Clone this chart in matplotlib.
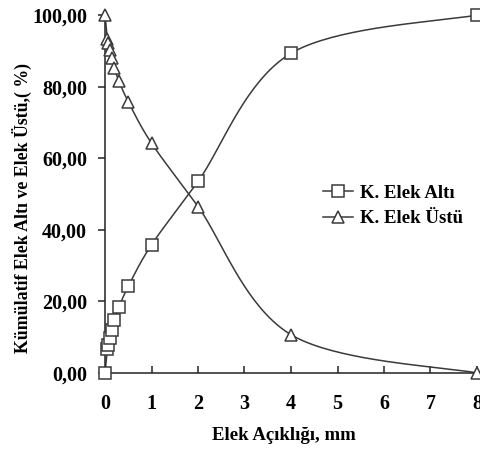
import numpy as np
import matplotlib
matplotlib.use("Agg")
import matplotlib.pyplot as plt
from matplotlib.lines import Line2D

# ---- data ----
sieve_mm = [0, 0.05, 0.075, 0.1, 0.15, 0.2, 0.3, 0.5, 1, 2, 4, 8]
elek_alti = [0.0, 6.8, 7.9, 9.8, 12.1, 14.9, 18.4, 24.2, 35.8, 53.5, 89.3, 100.0]
elek_ustu = [100.0, 93.2, 92.1, 90.2, 87.9, 85.1, 81.6, 75.8, 64.2, 46.5, 10.7, 0.0]
x_ticks = [0, 1, 2, 3, 4, 5, 6, 7, 8]
y_ticks = [0, 20, 40, 60, 80, 100]
series_names = ["K. Elek Altı", "K. Elek Üstü"]
x_title = "Elek Açıklığı, mm"
y_title = "Kümülatif Elek Altı ve Elek Üstü,( %)"

plt.rcParams['font.family'] = ['Liberation Serif', 'DejaVu Serif']
plt.rcParams['font.weight'] = 'bold'

W, H = 481, 450
fig = plt.figure(figsize=(W / 100, H / 100), dpi=100)
ax = fig.add_axes([105 / W, 1 - 373 / H, 372 / W, 358 / H])
ax.set_xlim(0, 8)
ax.set_ylim(0, 100)

line_color = "#3a3a3a"


def smooth(xs, ys, sx, sy, n=40):
    """Excel-like smoothed curve (cubic Bezier through points) in display-scaled units."""
    P = np.column_stack([np.asarray(xs, float) * sx, np.asarray(ys, float) * sy])
    out = []
    m = len(P)
    for i in range(m - 1):
        p0 = P[i - 1] if i > 0 else P[i]
        p1, p2 = P[i], P[i + 1]
        p3 = P[i + 2] if i + 2 < m else P[i + 1]
        c1 = p1 + (p2 - p0) / 6.0
        c2 = p2 - (p3 - p1) / 6.0
        t = np.linspace(0, 1, n)[:, None]
        seg = ((1 - t) ** 3) * p1 + 3 * ((1 - t) ** 2) * t * c1 + 3 * (1 - t) * t ** 2 * c2 + t ** 3 * p2
        out.append(seg if i == 0 else seg[1:])
    out = np.vstack(out)
    return out[:, 0] / sx, out[:, 1] / sy


sx, sy = 372 / 8.0, 358 / 100.0
for ys, mk in [(elek_alti, 's'), (elek_ustu, '^')]:
    cx, cy = smooth(sieve_mm, ys, sx, sy)
    ax.plot(cx, cy, color=line_color, lw=1.1, clip_on=False, zorder=2)
    ax.plot(sieve_mm, ys, linestyle='none', marker=mk, markersize=8,
            markerfacecolor='white', markeredgecolor=line_color, markeredgewidth=1.1,
            clip_on=False, zorder=3)

for s in ['top', 'right']:
    ax.spines[s].set_visible(False)
for s in ['left', 'bottom']:
    ax.spines[s].set_linewidth(1.1)
    ax.spines[s].set_color('#222222')

ax.set_xticks(x_ticks)
ax.set_xticklabels([str(v) for v in x_ticks])
ax.set_yticks(y_ticks)
ax.set_yticklabels([f"{v:.2f}".replace('.', ',') for v in y_ticks])
ax.tick_params(axis='x', direction='in', length=5, width=1.1, pad=15, labelsize=14.5, colors='#222222')
ax.tick_params(axis='y', direction='out', length=5, width=1.1, pad=8, labelsize=14.5, colors='#222222')
for lab in ax.get_xticklabels() + ax.get_yticklabels():
    lab.set_fontweight('bold')
    lab.set_color('black')

fig.text(284 / W, 1 - 435 / H, x_title, ha='center', va='center', fontsize=13.5, fontweight='bold')
fig.text(22 / W, 1 - 208 / H, y_title, ha='center', va='center', rotation=90, fontsize=12.8, fontweight='bold')

handles = [
    Line2D([], [], color=line_color, lw=1.1, marker='s', markersize=8, markerfacecolor='white',
           markeredgecolor=line_color, markeredgewidth=1.1),
    Line2D([], [], color=line_color, lw=1.1, marker='^', markersize=8, markerfacecolor='white',
           markeredgecolor=line_color, markeredgewidth=1.1),
]
leg = fig.legend(handles, series_names, loc='center left', bbox_to_anchor=(323 / W, 1 - 206 / H),
                 bbox_transform=fig.transFigure, frameon=False, borderpad=0, borderaxespad=0,
                 handlelength=1.6, handletextpad=0.4, labelspacing=0.45,
                 prop={'family': ['Liberation Serif'], 'weight': 'bold', 'size': 13.5})

fig.savefig("out.png", dpi=100)
